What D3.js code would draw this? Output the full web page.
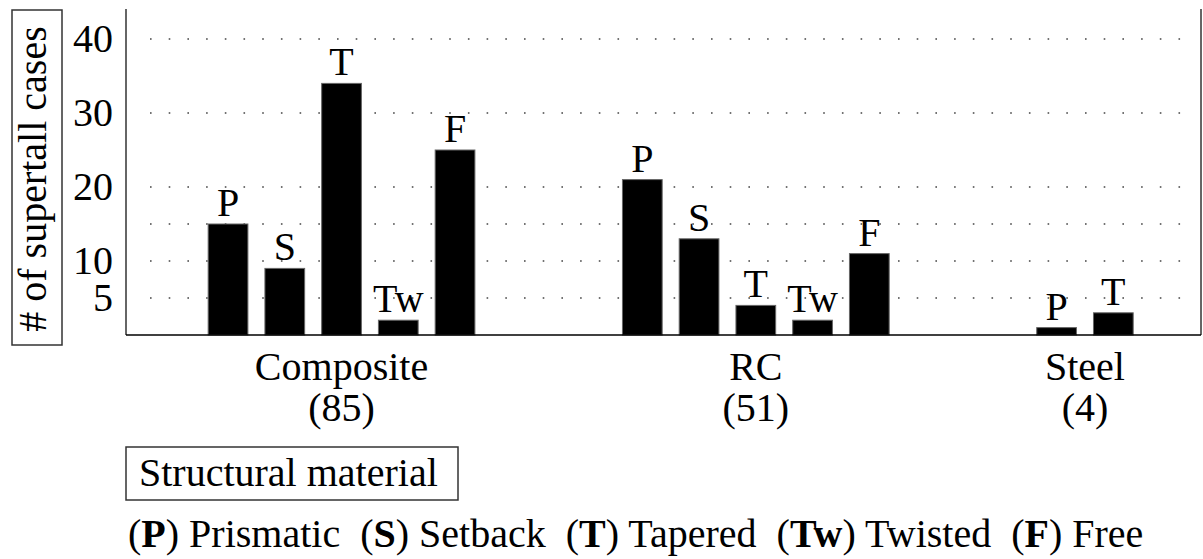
<!DOCTYPE html>
<html>
<head>
<meta charset="utf-8">
<script src="https://cdn.jsdelivr.net/npm/d3@7"></script>
<style>
  svg text { font-family: "Liberation Serif", serif !important; }
</style>
</head>
<body style="margin:0">
<script>
// Supertall cases by structural material and shape

const materials = ["Composite", "RC", "Steel"];
const materialTotals = [85, 51, 4];
const shapes = ["P", "S", "T", "Tw", "F"];
const shapeNames = ["Prismatic", "Setback", "Tapered", "Twisted", "Free"];
const compositeCases = [15, 9, 34, 2, 25];
const rcCases = [21, 13, 4, 2, 11];
const steelCases = [1, 0, 3, 0, 0];
const yTickValues = [5, 10, 20, 30, 40];
const gridValues = [5, 10, 15, 20, 30, 40];

const width = 1203, height = 559;
const FONT = 40;
const GAP = 2.3; // empty slots between groups

// build groups: only shapes with cases get a bar
const caseRows = [compositeCases, rcCases, steelCases];
let slot = 0;
const groups = materials.map((m, i) => {
  const bars = shapes
    .map((s, j) => ({ shape: s, value: caseRows[i][j] }))
    .filter(d => d.value > 0);
  const start = slot + GAP / 2;
  bars.forEach((b, k) => { b.slot = start + k; });
  const g = { material: m, total: materialTotals[i], bars, center: start + bars.length / 2 };
  slot += bars.length + GAP;
  return g;
});
const totalSlots = slot;

const plotLeft = 126, plotRight = 1201, plotTop = 9, plotBottom = 335;

const x = d3.scaleLinear().domain([0, totalSlots]).range([134.4, 134.4 + totalSlots * 56.75]);
const y = d3.scaleLinear().domain([0, 40]).range([plotBottom, 39]);
const barW = (x(1) - x(0)) * 0.70;

const svg = d3.select('body').append('svg')
  .attr('width', width).attr('height', height)
  .attr('font-family', 'serif');

// dotted gridlines
svg.append('g').selectAll('line').data(gridValues).join('line')
  .attr('x1', 150).attr('x2', 1196)
  .attr('y1', d => y(d)).attr('y2', d => y(d))
  .attr('stroke', '#444').attr('stroke-width', 1.6)
  .attr('stroke-dasharray', '1.6,17.1');

// frame: left, right
svg.append('line').attr('x1', plotLeft).attr('x2', plotLeft).attr('y1', plotTop).attr('y2', plotBottom)
  .attr('stroke', '#333').attr('stroke-width', 1.5);
svg.append('line').attr('x1', plotRight).attr('x2', plotRight).attr('y1', plotTop).attr('y2', plotBottom)
  .attr('stroke', '#333').attr('stroke-width', 1.5);

// y tick labels
yTickValues.forEach(v => {
  svg.append('text').attr('font-size', FONT).attr('font-family', 'serif')
    .attr('x', 113).attr('y', y(v) + 13).attr('text-anchor', 'end')
    .text(v);
});

// y title in a box
svg.append('rect').attr('x', 12).attr('y', 10).attr('width', 50).attr('height', 335)
  .attr('fill', 'none').attr('stroke', '#333').attr('stroke-width', 1.5);
svg.append('text').attr('font-size', FONT).attr('font-family', 'serif')
  .attr('transform', 'translate(46,179) rotate(-90)')
  .attr('text-anchor', 'middle')
  .text('# of supertall cases');

// bars + letters
groups.forEach(g => {
  g.bars.forEach(d => {
    const cx = x(d.slot + 0.5);
    svg.append('rect')
      .attr('x', cx - barW / 2).attr('y', y(d.value))
      .attr('width', barW).attr('height', y(0) - y(d.value))
      .attr('fill', '#000').attr('stroke', '#666').attr('stroke-width', 1);
    svg.append('text').attr('font-size', FONT).attr('font-family', 'serif')
      .attr('x', cx).attr('y', y(d.value) - 8).attr('text-anchor', 'middle')
      .text(d.shape);
  });
  svg.append('text').attr('font-size', FONT).attr('font-family', 'serif')
    .attr('x', x(g.center)).attr('y', 380).attr('text-anchor', 'middle')
    .text(g.material);
  svg.append('text').attr('font-size', FONT).attr('font-family', 'serif')
    .attr('x', x(g.center)).attr('y', 421).attr('text-anchor', 'middle')
    .text(`(${g.total})`);
});

// baseline
svg.append('line').attr('x1', plotLeft).attr('x2', plotRight).attr('y1', plotBottom).attr('y2', plotBottom)
  .attr('stroke', '#000').attr('stroke-width', 1.5);

// x title box
svg.append('rect').attr('x', 126).attr('y', 447).attr('width', 332).attr('height', 53)
  .attr('fill', 'none').attr('stroke', '#333').attr('stroke-width', 1.5);
svg.append('text').attr('font-size', FONT).attr('font-family', 'serif')
  .attr('x', 139).attr('y', 486)
  .text('Structural material');

// legend line
const leg = svg.append('text').attr('font-size', FONT).attr('font-family', 'serif')
  .attr('x', 128).attr('y', 547);
shapes.forEach((s, i) => {
  leg.append('tspan').text(i ? '\u00a0\u00a0(' : '(');
  leg.append('tspan').attr('font-weight', 'bold').text(s);
  leg.append('tspan').text(') ' + shapeNames[i]);
});
</script>
</body>
</html>
